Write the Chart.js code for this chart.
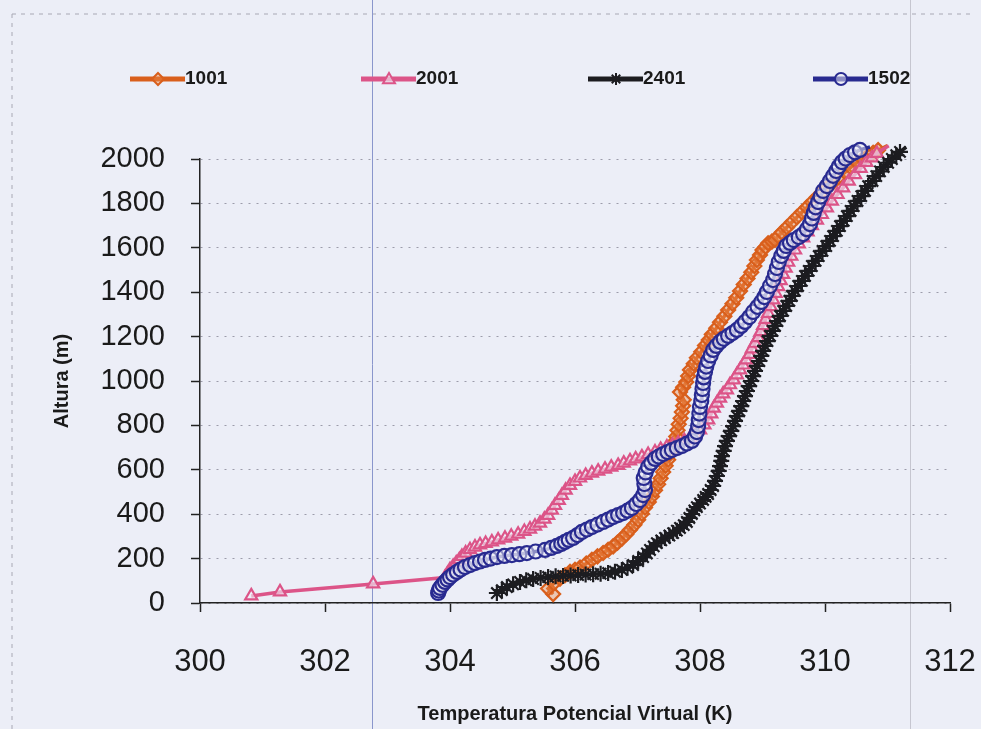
<!DOCTYPE html>
<html lang="es">
<head>
<meta charset="UTF-8">
<title>Temperatura Potencial Virtual</title>
<script src="https://cdn.jsdelivr.net/npm/chart.js"></script>
<style>
  body { margin: 0; background: #eceef7; }
  #wrap { position: relative; width: 981px; height: 729px; }
</style>
</head>
<body>
<div id="wrap"><canvas id="chart" width="981" height="729"></canvas></div>
<script>
// series names and axis ticks
const seriesNames = ['1001', '2001', '2401', '1502'];
const xTicks = [300, 302, 304, 306, 308, 310, 312];
const yTicks = [0, 200, 400, 600, 800, 1000, 1200, 1400, 1600, 1800, 2000];

// 1001 - temperature (K) and height (m)
const temp1001 = [305.65, 305.57, 305.66, 305.76, 305.84, 305.92, 306.00, 306.08, 306.18, 306.27,
  306.36, 306.45, 306.53, 306.61, 306.68, 306.75, 306.82, 306.88, 306.95, 307.01,
  307.07, 307.12, 307.18, 307.23, 307.28, 307.33, 307.37, 307.41, 307.45, 307.49,
  307.52, 307.55, 307.59, 307.62, 307.64, 307.66, 307.69, 307.71, 307.73, 307.74,
  307.68, 307.73, 307.78, 307.81, 307.84, 307.90, 307.95, 308.02, 308.08, 308.14,
  308.19, 308.26, 308.32, 308.39, 308.45, 308.52, 308.58, 308.64, 308.70, 308.76,
  308.82, 308.87, 308.91, 308.96, 309.00, 309.05, 309.09, 309.15, 309.20, 309.25,
  309.31, 309.39, 309.47, 309.55, 309.63, 309.71, 309.79, 309.87, 309.95, 310.04,
  310.13, 310.22, 310.32, 310.41, 310.51, 310.60, 310.69, 310.77, 310.85, 310.93,
  311.00];
const alt1001 = [40, 65, 88, 110, 125, 140, 150, 160, 178, 195,
  210, 225, 240, 255, 272, 290, 310, 330, 352, 375,
  402, 430, 455, 480, 508, 535, 562, 590, 618, 645,
  672, 700, 725, 750, 778, 805, 832, 860, 888, 915,
  950, 972, 995, 1022, 1050, 1078, 1105, 1132, 1160, 1185,
  1210, 1238, 1265, 1292, 1320, 1348, 1375, 1405, 1435, 1462,
  1490, 1518, 1545, 1568, 1590, 1605, 1620, 1628, 1635, 1652,
  1670, 1692, 1715, 1738, 1760, 1782, 1805, 1828, 1850, 1872,
  1895, 1918, 1940, 1962, 1985, 2000, 2015, 2028, 2040, 2050,
  2060];

// 2001
const temp2001 = [300.82, 301.28, 302.77, 303.92, 303.96, 304.00, 304.05, 304.10, 304.15, 304.19,
  304.25, 304.32, 304.40, 304.48, 304.57, 304.67, 304.77, 304.88, 304.98, 305.09,
  305.19, 305.28, 305.36, 305.44, 305.51, 305.57, 305.63, 305.68, 305.74, 305.79,
  305.85, 305.92, 306.00, 306.08, 306.17, 306.27, 306.37, 306.48, 306.58, 306.69,
  306.78, 306.88, 306.97, 307.07, 307.17, 307.28, 307.37, 307.47, 307.56, 307.65,
  307.75, 307.84, 307.92, 308.00, 308.07, 308.13, 308.18, 308.22, 308.27, 308.32,
  308.37, 308.43, 308.48, 308.54, 308.59, 308.64, 308.69, 308.74, 308.79, 308.83,
  308.88, 308.93, 308.97, 309.01, 309.05, 309.09, 309.13, 309.17, 309.21, 309.25,
  309.29, 309.33, 309.37, 309.41, 309.46, 309.52, 309.58, 309.65, 309.72, 309.79,
  309.87, 309.95, 310.03, 310.11, 310.20, 310.29, 310.38, 310.48, 310.57, 310.66,
  310.75, 310.83, 310.92, 311.02];
const alt2001 = [32, 50, 86, 115, 132, 150, 165, 180, 195, 210,
  225, 240, 252, 262, 268, 275, 284, 292, 301, 310,
  322, 333, 346, 360, 378, 395, 418, 440, 462, 485,
  508, 530, 548, 563, 575, 585, 594, 603, 612, 620,
  630, 640, 649, 658, 669, 680, 692, 703, 711, 720,
  731, 743, 761, 780, 802, 825, 852, 878, 900, 923,
  942, 960, 983, 1005, 1028, 1050, 1072, 1095, 1120, 1145,
  1170, 1195, 1222, 1250, 1278, 1305, 1335, 1365, 1395, 1425,
  1452, 1480, 1508, 1535, 1562, 1590, 1618, 1645, 1672, 1700,
  1725, 1750, 1780, 1810, 1840, 1870, 1900, 1930, 1958, 1985,
  2005, 2025, 2043, 2060];

// 2401
const temp2401 = [304.75, 304.83, 304.91, 305.01, 305.12, 305.22, 305.33, 305.45, 305.57, 305.69,
  305.81, 305.93, 306.05, 306.17, 306.29, 306.41, 306.53, 306.64, 306.75, 306.84,
  306.93, 307.01, 307.09, 307.15, 307.20, 307.26, 307.31, 307.38, 307.44, 307.51,
  307.57, 307.63, 307.68, 307.74, 307.79, 307.83, 307.87, 307.91, 307.95, 308.00,
  308.05, 308.09, 308.13, 308.17, 308.21, 308.24, 308.27, 308.30, 308.32, 308.34,
  308.35, 308.38, 308.40, 308.43, 308.46, 308.50, 308.53, 308.56, 308.59, 308.63,
  308.66, 308.69, 308.72, 308.75, 308.78, 308.82, 308.85, 308.88, 308.91, 308.95,
  308.98, 309.01, 309.04, 309.08, 309.12, 309.16, 309.20, 309.24, 309.28, 309.33,
  309.38, 309.43, 309.47, 309.52, 309.57, 309.63, 309.68, 309.74, 309.79, 309.85,
  309.90, 309.96, 310.02, 310.08, 310.13, 310.19, 310.24, 310.30, 310.35, 310.41,
  310.46, 310.52, 310.58, 310.64, 310.69, 310.76, 310.82, 310.88, 310.94, 311.01,
  311.07, 311.14, 311.20, 311.30];
const alt2401 = [45, 58, 72, 84, 95, 102, 108, 113, 117, 120,
  122, 124, 126, 128, 130, 132, 135, 141, 149, 159,
  171, 189, 207, 223, 239, 255, 270, 282, 293, 304,
  315, 326, 338, 351, 365, 383, 401, 417, 432, 448,
  464, 478, 491, 509, 527, 550, 572, 595, 617, 640,
  662, 685, 707, 730, 752, 775, 797, 820, 842, 865,
  887, 910, 932, 955, 977, 1000, 1022, 1045, 1068, 1090,
  1113, 1136, 1158, 1180, 1203, 1226, 1248, 1270, 1293, 1316,
  1338, 1361, 1383, 1406, 1428, 1451, 1473, 1496, 1518, 1541,
  1563, 1586, 1608, 1631, 1653, 1676, 1698, 1721, 1743, 1766,
  1788, 1811, 1833, 1856, 1878, 1901, 1923, 1944, 1964, 1983,
  2000, 2017, 2032, 2054];

// 1502
const temp1502 = [303.81, 303.82, 303.84, 303.88, 303.92, 303.96, 304.00, 304.05, 304.11, 304.17,
  304.24, 304.32, 304.40, 304.48, 304.56, 304.65, 304.75, 304.87, 304.99, 305.11,
  305.23, 305.37, 305.52, 305.62, 305.71, 305.78, 305.84, 305.90, 305.97, 306.04,
  306.11, 306.19, 306.27, 306.36, 306.45, 306.53, 306.61, 306.69, 306.77, 306.84,
  306.91, 306.98, 307.04, 307.09, 307.12, 307.11, 307.10, 307.13, 307.17, 307.22,
  307.28, 307.34, 307.41, 307.48, 307.55, 307.63, 307.71, 307.79, 307.87, 307.92,
  307.95, 307.97, 307.98, 307.99, 308.00, 308.02, 308.03, 308.04, 308.05, 308.06,
  308.08, 308.10, 308.13, 308.17, 308.21, 308.26, 308.32, 308.38, 308.45, 308.52,
  308.59, 308.66, 308.72, 308.79, 308.85, 308.92, 308.98, 309.03, 309.07, 309.12,
  309.17, 309.20, 309.23, 309.26, 309.30, 309.34, 309.38, 309.44, 309.50, 309.58,
  309.65, 309.71, 309.76, 309.79, 309.82, 309.85, 309.89, 309.93, 309.97, 310.03,
  310.08, 310.13, 310.18, 310.22, 310.27, 310.33, 310.40, 310.48, 310.56, 310.64,
  310.72];
const alt1502 = [45, 56, 68, 82, 95, 106, 117, 128, 140, 151,
  162, 171, 180, 187, 194, 200, 207, 212, 216, 220,
  225, 232, 239, 248, 257, 266, 275, 284, 293, 306,
  320, 331, 342, 353, 365, 376, 387, 396, 405, 416,
  428, 446, 464, 486, 509, 536, 563, 588, 613, 631,
  649, 660, 671, 680, 689, 698, 707, 718, 730, 750,
  770, 797, 824, 853, 883, 910, 937, 964, 991, 1016,
  1041, 1065, 1090, 1115, 1140, 1158, 1176, 1190, 1203, 1216,
  1230, 1248, 1266, 1288, 1311, 1334, 1356, 1378, 1401, 1428,
  1455, 1482, 1509, 1536, 1563, 1586, 1608, 1622, 1635, 1648,
  1662, 1684, 1707, 1732, 1757, 1782, 1806, 1831, 1856, 1878,
  1901, 1924, 1946, 1966, 1986, 2002, 2018, 2030, 2041, 2048,
  2054];

const colors = ['#d95f1c', '#dc5488', '#1c1c20', '#282a90'];
const fills = ['rgba(236,140,80,0.4)', 'rgba(240,240,248,0.6)', '#1c1c20', 'rgba(240,240,248,0.5)'];
const styles = ['rectRot', 'triangle', 'star', 'circle'];
const radii = [7, 7, 8, 7];
const legendX = [130, 361, 588, 813];

function pairs(xs, ys) {
  return xs.map((x, i) => ({ x: x, y: ys[i] }));
}

const seriesData = [pairs(temp1001, alt1001), pairs(temp2001, alt2001), pairs(temp2401, alt2401), pairs(temp1502, alt1502)];

const datasets = seriesNames.map((name, i) => ({
  label: name,
  data: seriesData[i],
  borderColor: colors[i],
  backgroundColor: fills[i],
  pointBorderColor: colors[i],
  pointBackgroundColor: fills[i],
  pointStyle: styles[i],
  pointRadius: radii[i],
  pointBorderWidth: 2.2,
  borderWidth: 3.5,
  showLine: true,
  clip: false,
  order: [4, 3, 2, 1][i]
}));

// background + the page lines of the scan
const pagePlugin = {
  id: 'page',
  beforeDraw(chart) {
    const c = chart.ctx;
    c.save();
    c.fillStyle = '#eceef7';
    c.fillRect(0, 0, chart.width, chart.height);
    c.strokeStyle = '#a8a8b4';
    c.lineWidth = 1;
    c.setLineDash([4, 5]);
    c.beginPath();
    c.moveTo(12, 14); c.lineTo(970, 14);
    c.moveTo(12, 14); c.lineTo(12, 729);
    c.stroke();
    c.setLineDash([]);
    c.strokeStyle = '#8a96cc';
    c.beginPath(); c.moveTo(372.5, 0); c.lineTo(372.5, 729); c.stroke();
    c.strokeStyle = '#c6c6d0';
    c.beginPath(); c.moveTo(910.5, 0); c.lineTo(910.5, 729); c.stroke();
    c.restore();
  }
};

function marker(c, style, x, y, r) {
  c.beginPath();
  if (style === 'circle') {
    c.arc(x, y, r, 0, Math.PI * 2);
  } else if (style === 'rectRot') {
    c.moveTo(x, y - r); c.lineTo(x + r, y); c.lineTo(x, y + r); c.lineTo(x - r, y); c.closePath();
  } else if (style === 'triangle') {
    c.moveTo(x, y - r); c.lineTo(x + r, y + r * 0.7); c.lineTo(x - r, y + r * 0.7); c.closePath();
  } else {
    for (let k = 0; k < 4; k++) {
      const a = k * Math.PI / 4;
      c.moveTo(x - r * Math.cos(a), y - r * Math.sin(a));
      c.lineTo(x + r * Math.cos(a), y + r * Math.sin(a));
    }
    c.stroke();
    return;
  }
  c.fill();
  c.stroke();
}

// legend drawn as line + marker like the original
const legendPlugin = {
  id: 'lineLegend',
  afterDraw(chart) {
    const c = chart.ctx;
    c.save();
    chart.data.datasets.forEach((ds, i) => {
      const x0 = legendX[i], y = 79;
      c.strokeStyle = colors[i];
      c.lineWidth = 5;
      c.beginPath(); c.moveTo(x0, y); c.lineTo(x0 + 55, y); c.stroke();
      c.lineWidth = 2;
      c.fillStyle = fills[i];
      marker(c, styles[i], x0 + 28, y, 6);
      c.fillStyle = '#1a1a1a';
      c.font = 'bold 19px "Liberation Sans", Arial, sans-serif';
      c.textBaseline = 'middle';
      c.fillText(ds.label, x0 + 55, y);
    });
    c.restore();
  }
};

new Chart(document.getElementById('chart'), {
  type: 'scatter',
  data: { datasets: datasets },
  options: {
    responsive: false,
    animation: false,
    layout: { padding: { left: 0, right: 31, top: 159, bottom: 0 } },
    plugins: {
      legend: { display: false },
      tooltip: { enabled: false }
    },
    scales: {
      x: {
        type: 'linear',
        min: xTicks[0],
        max: xTicks[xTicks.length - 1],
        afterFit(scale) {
          scale.height = 126;
          scale.paddingLeft = 0;
          scale.paddingRight = 0;
        },
        afterBuildTicks(scale) { scale.ticks = xTicks.map(v => ({ value: v })); },
        grid: { drawOnChartArea: false, tickLength: 9, tickColor: '#222', tickWidth: 1.5 },
        border: { color: '#222', width: 1.5 },
        ticks: {
          padding: 32,
          color: '#1a1a1a',
          callback: v => String(v),
          font: { family: '"Liberation Sans", Arial, sans-serif', size: 31 }
        },
        title: {
          display: true,
          text: 'Temperatura Potencial Virtual (K)',
          color: '#1a1a1a',
          padding: { top: 0, bottom: 3 },
          font: { family: '"Liberation Sans", Arial, sans-serif', size: 20, weight: 'bold' }
        }
      },
      y: {
        type: 'linear',
        min: yTicks[0],
        max: yTicks[yTicks.length - 1],
        afterFit(scale) { scale.width = 200; },
        afterBuildTicks(scale) { scale.ticks = yTicks.map(v => ({ value: v })); },
        grid: { color: '#9c9caa', lineWidth: 1, tickLength: 9, tickColor: '#222', tickWidth: 1.5 },
        border: { color: '#222', width: 1.5, dash: [2, 6] },
        ticks: {
          padding: 26,
          color: '#1a1a1a',
          callback: v => String(v),
          font: { family: '"Liberation Sans", Arial, sans-serif', size: 29 }
        },
        title: {
          display: true,
          text: 'Altura (m)',
          color: '#1a1a1a',
          padding: { top: 50, bottom: 0 },
          font: { family: '"Liberation Sans", Arial, sans-serif', size: 20, weight: 'bold' }
        }
      }
    }
  },
  plugins: [pagePlugin, legendPlugin]
});
</script>
</body>
</html>
